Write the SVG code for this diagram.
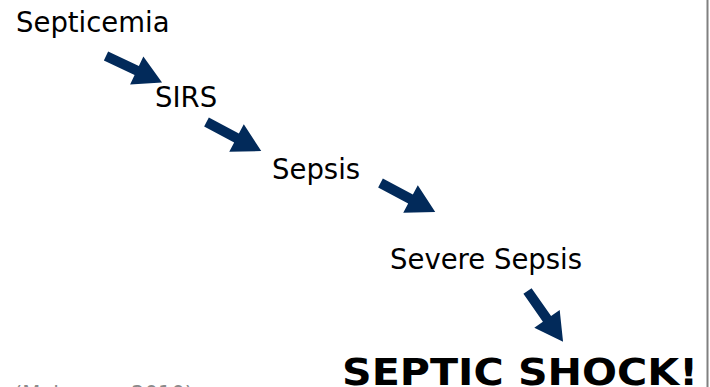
<svg xmlns="http://www.w3.org/2000/svg" xmlns:xlink="http://www.w3.org/1999/xlink" width="710" height="387" viewBox="0 0 710 387">
  <style>
    .lbl { font-family: "DejaVu Sans", Verdana, sans-serif; font-size: 27.5px; fill: #000; }
    .big { font-family: "DejaVu Sans", Verdana, sans-serif; font-size: 36.5px; font-weight: bold; fill: #000; }
    .cite { font-family: "DejaVu Sans", Verdana, sans-serif; font-size: 21px; fill: #8a8a8a; }
    .arr { fill: #022a5a; }
  </style>
  <defs>
    <path id="arrow" class="arr" d="M0,-5 L34,-5 L34,-15.5 L62,0 L34,15.5 L34,5 L0,5 Z"/>
  </defs>
  <rect x="0" y="0" width="710" height="387" fill="#ffffff"/>
  <line x1="707.5" y1="0" x2="707.5" y2="387" stroke="#808080" stroke-width="2"/>
  <g id="septicemia"><text class="lbl" x="16" y="32">Septicemia</text></g>
  <g id="sirs"><text class="lbl" x="155" y="107">SIRS</text></g>
  <g id="sepsis"><text class="lbl" x="272" y="179">Sepsis</text></g>
  <g id="severe-sepsis"><text class="lbl" x="390" y="269">Severe Sepsis</text></g>
  <g id="septic-shock"><text class="big" x="342" y="385" textLength="356" lengthAdjust="spacingAndGlyphs">SEPTIC SHOCK!</text></g>
  <g id="citation"><text class="cite" x="14" y="401">(Mahoney, 2010)</text></g>
  <g id="connectors">
    <use xlink:href="#arrow" transform="translate(106,56) rotate(25.3)"/>
    <use xlink:href="#arrow" transform="translate(206.5,122) rotate(28)"/>
    <use xlink:href="#arrow" transform="translate(380.5,183) rotate(28)"/>
    <use xlink:href="#arrow" transform="translate(527.5,291) rotate(55)"/>
  </g>
</svg>
